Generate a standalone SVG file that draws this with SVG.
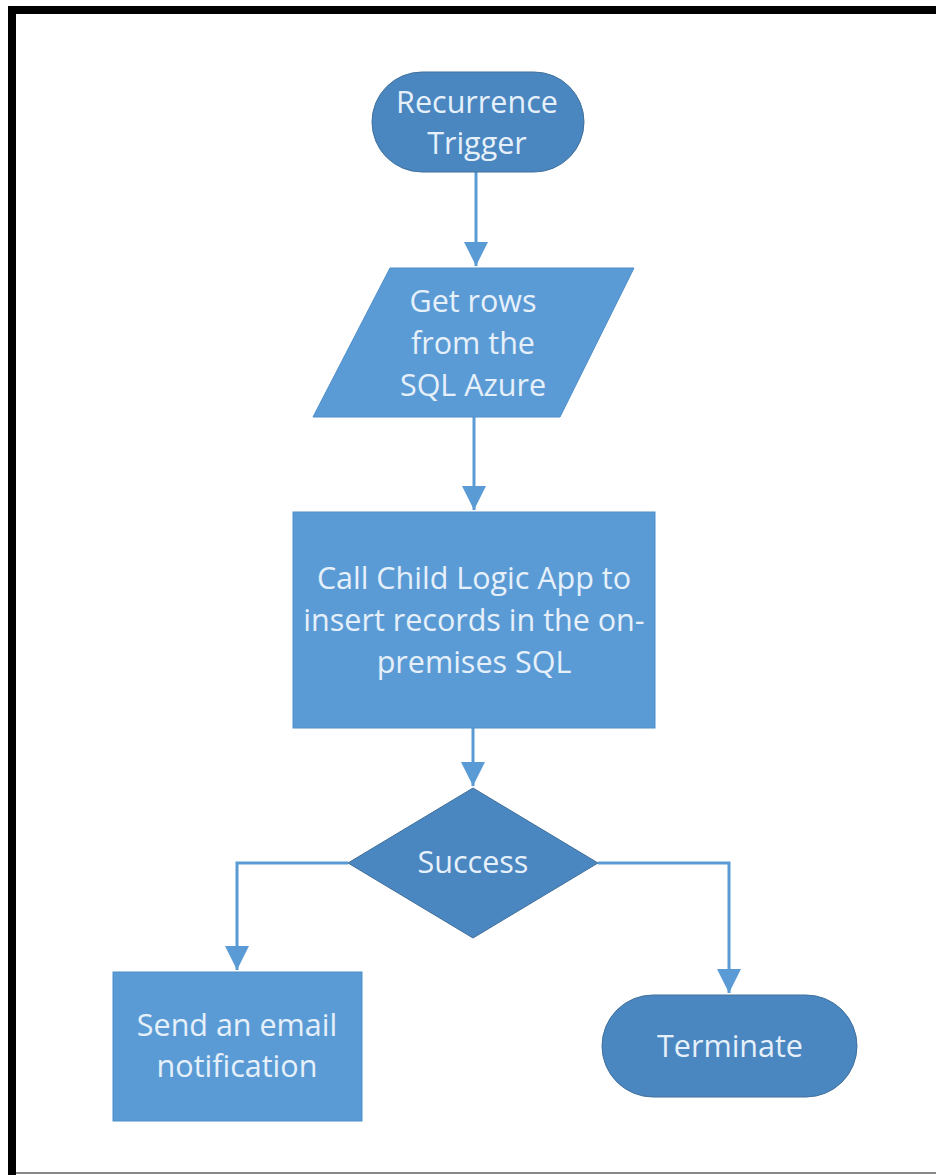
<svg xmlns="http://www.w3.org/2000/svg" width="936" height="1175" viewBox="0 0 936 1175">
<style>
.light{fill:#5b9bd5;stroke:#4f8fca;stroke-width:1}
.dark{fill:#4a86c0;stroke:#41719c;stroke-width:1}
.t{font-family:"Open Sans","Liberation Sans",sans-serif;font-size:30.5px;fill:#e6f0fa;text-anchor:middle}
.c{fill:none;stroke:#5b9bd5;stroke-width:3}
</style>
<defs>
<marker id="ah" markerWidth="8" markerHeight="8" refX="8" refY="4" orient="auto" markerUnits="strokeWidth" viewBox="0 0 8 8">
<path d="M0,0 L8,4 L0,8 Z" fill="#5b9bd5"/>
</marker>
</defs>
<rect x="0" y="0" width="936" height="1175" fill="#ffffff"/>
<g id="frame">
<rect x="8" y="6" width="928" height="8" fill="#000"/>
<rect x="8" y="6" width="8" height="1169" fill="#000"/>
<rect x="16" y="1172" width="920" height="2" fill="#888"/>
</g>
<g id="connectors">
<path class="c" d="M476,172 V266" marker-end="url(#ah)"/>
<path class="c" d="M474,417 V510" marker-end="url(#ah)"/>
<path class="c" d="M473,728 V786" marker-end="url(#ah)"/>
<path class="c" d="M348,863 H237 V970" marker-end="url(#ah)"/>
<path class="c" d="M598,863 H729 V993" marker-end="url(#ah)"/>
</g>
<g id="recurrence">
<rect class="dark" x="372" y="72" width="212" height="100" rx="50" ry="50"/>
<text class="t" x="477" y="113">Recurrence</text>
<text class="t" x="477" y="154">Trigger</text>
</g>
<g id="getrows">
<polygon class="light" points="390,268 634,268 560,417 313,417"/>
<text class="t" x="473" y="312">Get rows</text>
<text class="t" x="473" y="354">from the</text>
<text class="t" x="473" y="396">SQL Azure</text>
</g>
<g id="callchild">
<rect class="light" x="293" y="512" width="362" height="216"/>
<text class="t" x="474" y="589">Call Child Logic App to</text>
<text class="t" x="474" y="631">insert records in the on-</text>
<text class="t" x="474" y="673">premises SQL</text>
</g>
<g id="success">
<polygon class="dark" points="473,788 598,863 473,938 348,863"/>
<text class="t" x="473" y="873">Success</text>
</g>
<g id="email">
<rect class="light" x="113" y="972" width="249" height="149"/>
<text class="t" x="237" y="1036">Send an email</text>
<text class="t" x="237" y="1077">notification</text>
</g>
<g id="terminate">
<rect class="dark" x="602" y="995" width="255" height="102" rx="51" ry="51"/>
<text class="t" x="730" y="1057">Terminate</text>
</g>
</svg>
